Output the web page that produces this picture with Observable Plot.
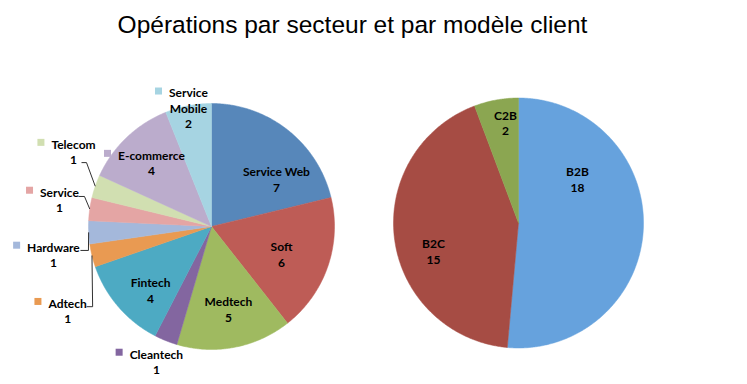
<!DOCTYPE html>
<html><head><meta charset="utf-8">
<script src="https://cdn.jsdelivr.net/npm/d3@7"></script>
<script src="https://cdn.jsdelivr.net/npm/@observablehq/plot@0.6"></script>
<style>
body{margin:0;background:#fff;}
#title{position:relative;height:50px;width:747px;}
#title div{position:absolute;left:0;top:11px;width:705px;text-align:center;font:24.5px/28px "Liberation Sans",Arial,sans-serif;color:#000;white-space:nowrap;}
</style></head><body>
<div id="title"><div>Opérations par secteur et par modèle client</div></div>
<div id="chart"></div>
<script>
// ---- data ----
const sectors = ["Service Web","Soft","Medtech","Cleantech","Fintech","Adtech","Hardware","Service","Telecom","E-commerce","Service Mobile"];
const sectorCounts = [7,6,5,1,4,1,1,1,1,4,2];
const models = ["B2B","B2C","C2B"];
const modelCounts = [18,15,2];

// ---- styles ----
const sectorColors = ["#5787BA","#BE5C56","#9FBA60","#8366A0","#4DAAC3","#E99A52","#A4B8DB","#E4A5A4","#D1DFB1","#BBACCC","#A6D4E2"];
const modelColors = ["#66A2DD","#A64C44","#8BA651"];

// ---- layout ----
const W = 747, H = 384, TOP = 50;
const FONT = "Lato", FS = 12, LH = 15.5;
const leftPie = {cx: 211, cy: 226, r: 123};
const rightPie = {cx: 518, cy: 222.5, r: 125};
// label placement: angular nudge (deg) from slice middle, distance from centre (px)
const sectorLabelLayout = [
  {nudge: 15.6, dist: 80.5},
  {nudge: 2.3, dist: 75.2},
  {nudge: -0.7, dist: 84.2},
  {nudge: 0.4, dist: 145.8, key: true},
  {nudge: -5.3, dist: 88},
  {nudge: -16.7, dist: 166.7, key: true, leader: [[19,-4],[25,-4]]},
  {nudge: -7.3, dist: 160.5, key: true, leader: [[27,-4],[35,-4]]},
  {nudge: 1.9, dist: 154.4, key: true, leader: [[19,-3],[25,-3]]},
  {nudge: 9.4, dist: 157, key: true, leader: [[8,11],[13,11]]},
  {nudge: 0.4, dist: 87.7, key: true},
  {nudge: -0.1, dist: 120.7, key: true, wrap: true}
];
const modelLabelLayout = [
  {nudge: -39.3, dist: 73.6},
  {nudge: -10.5, dist: 89.5},
  {nudge: 2.9, dist: 101.3}
];

const ctx = document.createElement("canvas").getContext("2d");
ctx.font = `bold ${FS}px ${FONT}`;

const polys = [], labels = [], keys = [], leaders = [];
function buildPie(names, values, colors, layout, g, pid) {
  const arcs = d3.pie().sort(null).value(d => d)(values);
  arcs.forEach((a, i) => {
    const id = pid + i;
    const span = a.endAngle - a.startAngle;
    const n = Math.max(2, Math.ceil(span / (Math.PI / 360)));
    polys.push({id, x: g.cx, y: g.cy, fill: colors[i]});
    for (let k = 0; k <= n; k++) {
      const t = a.startAngle + span * k / n;
      polys.push({id, x: g.cx + g.r * Math.sin(t), y: g.cy - g.r * Math.cos(t), fill: colors[i]});
    }
    polys.push({id, x: g.cx, y: g.cy, fill: colors[i]});
    const mid = (a.startAngle + a.endAngle) / 2;
    const L = layout[i];
    const la = mid + L.nudge * Math.PI / 180;
    const lx = g.cx + L.dist * Math.sin(la), ly = g.cy - L.dist * Math.cos(la);
    const lines = (L.wrap ? names[i].split(" ") : [names[i]]).concat(String(values[i]));
    labels.push({x: lx, y: ly, text: lines.join("\n")});
    const firstY = ly - (lines.length - 1) / 2 * LH;
    if (L.key) {
      const w = ctx.measureText(lines[0]).width;
      const kx = lx - w / 2 - 10, ky = firstY - 1;
      keys.push({x1: kx - 3.5, x2: kx + 3.5, y1: ky - 3.5, y2: ky + 3.5, fill: colors[i]});
    }
    if (L.leader) {
      L.leader.forEach(p => leaders.push({id, x: lx + p[0], y: ly + p[1]}));
      leaders.push({id, x: g.cx + g.r * Math.sin(mid), y: g.cy - g.r * Math.cos(mid)});
    }
  });
}
buildPie(sectors, sectorCounts, sectorColors, sectorLabelLayout, leftPie, "s");
buildPie(models, modelCounts, modelColors, modelLabelLayout, rightPie, "m");

const chart = Plot.plot({
  width: W, height: H - TOP,
  margin: 0,
  x: {domain: [0, W], range: [0, W], axis: null},
  y: {domain: [TOP, H], range: [0, H - TOP], axis: null},
  color: {type: "identity"},
  style: {background: "#fff"},
  marks: [
    Plot.line(polys, {x: "x", y: "y", z: "id", fill: "fill", stroke: "fill", strokeWidth: 0.5, curve: "linear"}),
    Plot.line(leaders, {x: "x", y: "y", z: "id", stroke: "#1a1a1a", strokeWidth: 0.9, strokeLinejoin: "miter", strokeLinecap: "butt"}),
    Plot.rect(keys, {x1: "x1", x2: "x2", y1: "y1", y2: "y2", fill: "fill"}),
    Plot.text(labels, {x: "x", y: "y", text: "text", lineAnchor: "middle", textAnchor: "middle",
      lineHeight: LH / FS, fontSize: FS, fontWeight: "bold", fontFamily: FONT, fill: "#000"})
  ]
});
document.getElementById("chart").appendChild(chart);
</script>
</body></html>
